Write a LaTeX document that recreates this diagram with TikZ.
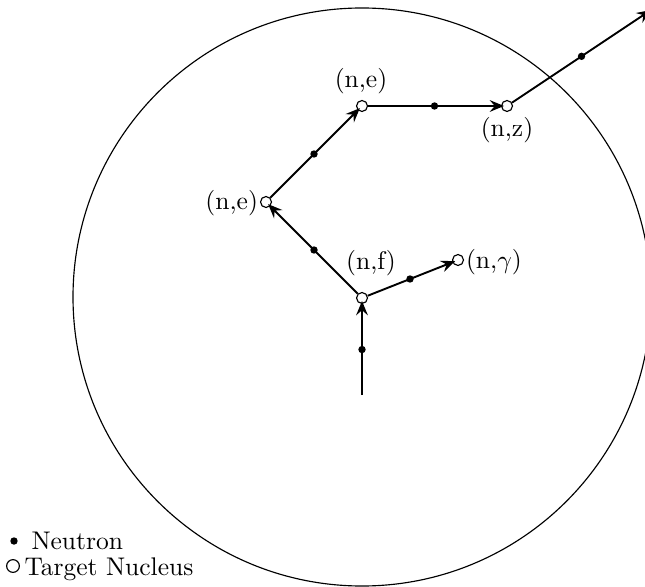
\documentclass[tikz,border=0pt]{standalone}
\usetikzlibrary{arrows.meta}
\begin{document}
\begin{tikzpicture}[x=0.392pt,y=-0.392pt,
  nucleus/.style={circle,draw,line width=0.45pt,inner sep=0pt,minimum size=4.3pt},
  neutron/.style={circle,fill=black,inner sep=0pt,minimum size=2.9pt},
  path/.style={line width=0.75pt,-{Stealth[length=5.6pt,width=4.6pt,inset=2pt]}},
  lab/.style={font=\normalsize,inner sep=1pt}]
\useasboundingbox (0,0) rectangle (645,586);
\node[circle,draw,line width=0.45pt,minimum size=578*0.392pt,inner sep=0pt] (sphere) at (362,297) {};
% nuclei
\coordinate (start) at (362,395);
\node[nucleus] (nf) at (362,298) {};
\node[nucleus] (ng) at (458,260) {};
\node[nucleus] (ne1) at (266,202) {};
\node[nucleus] (ne2) at (362,106) {};
\node[nucleus] (nz) at (507,106) {};
\coordinate (out) at (651,10);
% paths
\draw[path,shorten >=-1.2pt] (start) -- node[neutron]{} (nf);
\draw[path,shorten >=-1.2pt] (nf) -- node[neutron]{} (ng);
\draw[path,shorten >=-1.2pt] (nf) -- node[neutron]{} (ne1);
\draw[path,shorten >=-1.2pt] (ne1) -- node[neutron]{} (ne2);
\draw[path,shorten >=-1.2pt] (ne2) -- node[neutron]{} (nz);
\draw[path] (nz) -- node[neutron]{} (out);
% labels
\node[lab,anchor=south] (lnf) at (371,279) {(n,f)};
\node[lab,anchor=west] (lng) at (463,262) {(n,$\gamma$)};
\node[lab,anchor=east] (lne1) at (261,203) {(n,e)};
\node[lab,anchor=south] (lne2) at (361,97) {(n,e)};
\node[lab,anchor=north] (lnz) at (507,114) {(n,z)};
% legend
\node[neutron] (legdot) at (14,541) {};
\node[lab,anchor=base west,inner sep=0pt] (leg1) at (31,549) {Neutron};
\node[circle,draw,line width=0.45pt,inner sep=0pt,minimum size=5pt] (legcirc) at (13,566) {};
\node[lab,anchor=base west,inner sep=0pt] (leg2) at (24,575) {Target Nucleus};
\end{tikzpicture}
\end{document}
